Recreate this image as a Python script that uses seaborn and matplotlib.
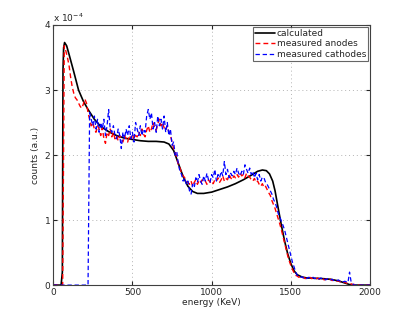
import numpy as np
import pandas as pd
import seaborn as sns
import matplotlib.pyplot as plt

# calculated spectrum (units of 1e-4)
calc_energy = [0, 50, 58, 62, 66, 72, 85, 100, 130, 160, 190, 220, 260, 300, 350, 400, 450, 500,
               550, 600, 650, 700, 730, 760, 790, 820, 850, 880, 910, 950, 1000, 1050, 1100,
               1150, 1200, 1250, 1290, 1320, 1345, 1365, 1385, 1400, 1420, 1440, 1460, 1480,
               1500, 1520, 1540, 1570, 1600, 1700, 1750, 1800, 1850, 1880, 2000]
calc_counts = [0, 0, 0.2, 3.3, 3.65, 3.73, 3.68, 3.55, 3.28, 3.0, 2.83, 2.7, 2.55, 2.44, 2.36, 2.3,
               2.26, 2.24, 2.22, 2.21, 2.21, 2.2, 2.17, 2.07, 1.87, 1.67, 1.52, 1.44, 1.41, 1.41,
               1.43, 1.47, 1.51, 1.56, 1.62, 1.69, 1.75, 1.77, 1.76, 1.71, 1.6, 1.45, 1.18, 0.92,
               0.68, 0.48, 0.33, 0.22, 0.16, 0.125, 0.11, 0.1, 0.09, 0.065, 0.025, 0.0, 0.0]

# measured spectra sampled every 10 KeV, 0..2000
meas_energy = np.arange(0, 2001, 10)

anodes = [
    0, 0, 0, 0, 0, 0, 0, 3.68, 3.6, 3.5,                                    # 0-90
    3.38, 3.2, 3.05, 2.95, 2.88, 2.85, 2.8, 2.75, 2.72, 2.78,               # 100-190
    2.86, 2.8, 2.65, 2.55, 2.45, 2.5, 2.4, 2.35, 2.45, 2.4,                 # 200-290
    2.3, 2.42, 2.25, 2.18, 2.35, 2.3, 2.4, 2.28, 2.35, 2.25,                # 300-390
    2.3, 2.22, 2.3, 2.25, 2.2, 2.3, 2.25, 2.2, 2.3, 2.25,                   # 400-490
    2.32, 2.24, 2.3, 2.28, 2.35, 2.3, 2.4, 2.32, 2.28, 2.38,                # 500-590
    2.45, 2.35, 2.4, 2.5, 2.42, 2.38, 2.48, 2.55, 2.45, 2.5,                # 600-690
    2.42, 2.38, 2.45, 2.35, 2.3, 2.2, 2.1, 2.05, 1.95, 1.85,                # 700-790
    1.8, 1.72, 1.68, 1.65, 1.6, 1.58, 1.55, 1.6, 1.52, 1.58,                # 800-890
    1.62, 1.55, 1.6, 1.57, 1.62, 1.58, 1.6, 1.55, 1.62, 1.58,               # 900-990
    1.6, 1.56, 1.62, 1.6, 1.65, 1.58, 1.62, 1.68, 1.6, 1.64,                # 1000-1090
    1.62, 1.7, 1.65, 1.62, 1.68, 1.65, 1.7, 1.66, 1.72, 1.68,               # 1100-1190
    1.7, 1.65, 1.72, 1.68, 1.66, 1.62, 1.6, 1.64, 1.58, 1.6,                # 1200-1290
    1.55, 1.52, 1.56, 1.5, 1.52, 1.47, 1.42, 1.38, 1.3, 1.24,               # 1300-1390
    1.18, 1.1, 1.02, 0.94, 0.85, 0.75, 0.65, 0.55, 0.45, 0.37,              # 1400-1490
    0.3, 0.24, 0.19, 0.15, 0.14, 0.12, 0.13, 0.11, 0.12, 0.1,               # 1500-1590
    0.11, 0.1, 0.12, 0.1, 0.11, 0.09, 0.1, 0.11, 0.09, 0.1,                 # 1600-1690
    0.1, 0.08, 0.09, 0.1, 0.08, 0.09, 0.07, 0.08, 0.07, 0.06,               # 1700-1790
    0.07, 0.05, 0.06, 0.04, 0.05, 0.03, 0.03, 0.02, 0.02, 0.01,             # 1800-1890
    0.01, 0, 0, 0, 0, 0, 0, 0, 0, 0,                                        # 1900-1990
    0,                                                                      # 2000
]

cathodes = [
    0, 0, 0, 0, 0, 0, 0, 0, 0, 0,                                           # 0-90
    0, 0, 0, 0, 0, 0, 0, 0, 0, 0,                                           # 100-190
    0, 0, 0, 2.65, 2.55, 2.45, 2.6, 2.4, 2.55, 2.35,                        # 200-290
    2.5, 2.4, 2.55, 2.3, 2.45, 2.7, 2.4, 2.35, 2.45, 2.3,                   # 300-390
    2.25, 2.4, 2.3, 2.1, 2.35, 2.25, 2.4, 2.3, 2.45, 2.25,                  # 400-490
    2.35, 2.2, 2.5, 2.4, 2.3, 2.45, 2.3, 2.4, 2.35, 2.6,                    # 500-590
    2.7, 2.55, 2.65, 2.4, 2.5, 2.35, 2.6, 2.45, 2.55, 2.4,                  # 600-690
    2.6, 2.35, 2.5, 2.3, 2.4, 2.15, 2.2, 2.0, 2.05, 1.85,                   # 700-790
    1.75, 1.7, 1.6, 1.65, 1.55, 1.6, 1.45, 1.4, 1.55, 1.5,                  # 800-890
    1.65, 1.58, 1.7, 1.6, 1.55, 1.68, 1.6, 1.72, 1.62, 1.58,                # 900-990
    1.7, 1.65, 1.78, 1.6, 1.7, 1.65, 1.75, 1.68, 1.9, 1.7,                  # 1000-1090
    1.78, 1.65, 1.72, 1.68, 1.75, 1.7, 1.8, 1.72, 1.68, 1.75,               # 1100-1190
    1.7, 1.85, 1.78, 1.72, 1.8, 1.7, 1.75, 1.65, 1.72, 1.62,                # 1200-1290
    1.7, 1.6, 1.66, 1.65, 1.58, 1.55, 1.5, 1.45, 1.4, 1.32,                 # 1300-1390
    1.27, 1.2, 1.1, 1.05, 0.98, 0.92, 0.85, 0.75, 0.65, 0.55,               # 1400-1490
    0.45, 0.35, 0.28, 0.2, 0.15, 0.14, 0.12, 0.13, 0.11, 0.12,              # 1500-1590
    0.1, 0.12, 0.11, 0.1, 0.12, 0.1, 0.11, 0.09, 0.1, 0.11,                 # 1600-1690
    0.09, 0.1, 0.08, 0.1, 0.09, 0.08, 0.09, 0.07, 0.08, 0.07,               # 1700-1790
    0.08, 0.06, 0.07, 0.05, 0.06, 0.05, 0.04, 0.2, 0.05, 0.02,              # 1800-1890
    0, 0, 0, 0, 0, 0, 0, 0, 0, 0,                                           # 1900-1990
    0,                                                                      # 2000
]

calc_df = pd.DataFrame({'energy': calc_energy, 'counts': calc_counts})
meas_df = pd.DataFrame({'energy': meas_energy, 'anodes': anodes, 'cathodes': cathodes})

sns.set_style('white')
plt.rcParams['font.family'] = ['DejaVu Sans']

fig = plt.figure(figsize=(4.09, 3.2), dpi=100)
ax = fig.add_axes([0.13, 0.109, 0.775, 0.813])

sns.lineplot(data=calc_df, x='energy', y='counts', ax=ax, color='black', lw=1.2,
             label='calculated', sort=False, estimator=None)
sns.lineplot(data=meas_df, x='energy', y='anodes', ax=ax, color='#ff0000', lw=1.0,
             linestyle=(0, (3.5, 2.2)), label='measured anodes', sort=False, estimator=None)
sns.lineplot(data=meas_df, x='energy', y='cathodes', ax=ax, color='#0000ff', lw=0.9,
             linestyle=(0, (3.5, 2.2)), label='measured cathodes', sort=False, estimator=None)

ax.set_xlim(0, 2000)
ax.set_ylim(0, 4)
ax.set_xticks([0, 500, 1000, 1500, 2000])
ax.set_yticks([0, 1, 2, 3, 4])
ax.grid(True, linestyle=(0, (1, 3)), color='#b4b4b4', lw=0.7)
ax.tick_params(direction='in', labelsize=6.5, length=3, top=True, right=True,
               bottom=True, left=True, pad=2)
for s in ax.spines.values():
    s.set_color('#404040')
    s.set_linewidth(0.8)

ax.set_xlabel('energy (KeV)', fontsize=6.5, labelpad=1)
ax.set_ylabel('counts (a.u.)', fontsize=6.5, labelpad=3)
ax.text(0.0, 1.005, 'x 10$^{-4}$', transform=ax.transAxes, fontsize=6.5,
        ha='left', va='bottom')

leg = ax.legend(loc='upper right', fontsize=6.5, frameon=True, fancybox=False,
                handlelength=2.2, handletextpad=0.2, borderpad=0.25,
                labelspacing=0.15, borderaxespad=0.2)
leg.get_frame().set_edgecolor('#404040')
leg.get_frame().set_linewidth(0.8)

fig.savefig('out.png', dpi=100)
